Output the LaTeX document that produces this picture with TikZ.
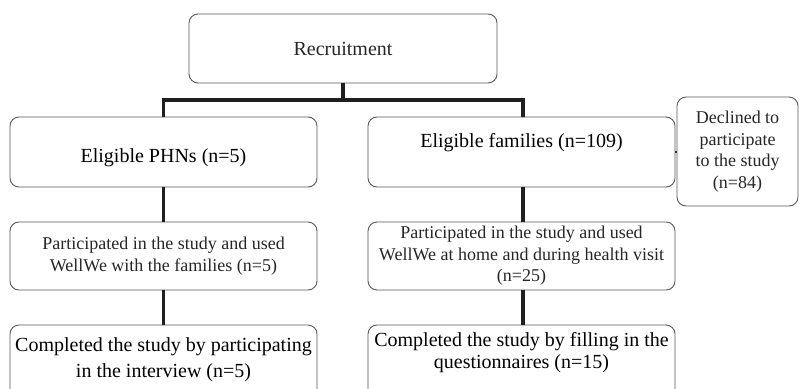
\documentclass[tikz,border=0pt]{standalone}
\usepackage{fontspec}
\setmainfont{Liberation Serif}
\begin{document}
\begin{tikzpicture}[x=1pt,y=-1pt,
  box/.style={draw=black!65, line width=0.9pt, rounded corners=9pt,
    inner sep=0pt, align=center, text=black!85},
  big/.style={font=\fontsize{20}{26}\selectfont},
  mid/.style={font=\fontsize{18}{21.5}\selectfont},
  link/.style={draw=black!88, line width=3.6pt}]
\useasboundingbox (0,0) rectangle (799,388);
% top box
\node[box, big, minimum width=308pt, minimum height=69pt] (rec) at (343,48.5) {Recruitment};
% left branch
\node[box, minimum width=307pt, minimum height=70pt] (phn) at (163.5,152) {};
\node[big] (phntext) at (163.5,158) {Eligible PHNs (n=5)};
\node[box, mid, minimum width=307pt, minimum height=68pt] (phnuse) at (163.5,256) {Participated in the study and used\\WellWe with the families (n=5)};
\node[box, minimum width=307pt, minimum height=75pt] (phndone) at (163.5,362.5) {};
\node[big, align=center] (phndonetext) at (163.5,360) {Completed the study by participating\\in the interview (n=5)};
% right branch
\node[box, minimum width=307pt, minimum height=70pt] (fam) at (521.5,152) {};
\node[big] (famtext) at (521.5,143) {Eligible families (n=109)};
\node[box, mid, minimum width=121pt, minimum height=109pt] (dec) at (737.5,151.5) {Declined to\\participate\\to the study\\(n=84)};
\node[box, mid, minimum width=307pt, minimum height=68pt] (famuse) at (521.5,256) {Participated in the study and used\\WellWe at home and during health visit\\(n=25)};
\node[box, minimum width=307pt, minimum height=75pt] (famdone) at (521.5,362.5) {};
\node[font=\fontsize{20}{21.5}\selectfont, align=center] (famdonetext) at (521.5,352.5) {Completed the study by filling in the\\questionnaires (n=15)};
% connectors
\coordinate (split) at (343,100);
\path[link] (rec.south) -- (split);
\path[link] (phn.north) |- (split) -| (523,117) -- (fam.north -| 523,0);
\path[link] (phn.south) -- (phnuse.north);
\path[link] (phnuse.south) -- (phndone.north);
\path[link] (fam.south -| 523,0) -- (famuse.north -| 523,0);
\path[link] (famuse.south -| 523,0) -- (famdone.north -| 523,0);
\draw[black!80, line width=1.5pt] (fam.east) -- (dec.west |- fam.east);
\end{tikzpicture}
\end{document}
